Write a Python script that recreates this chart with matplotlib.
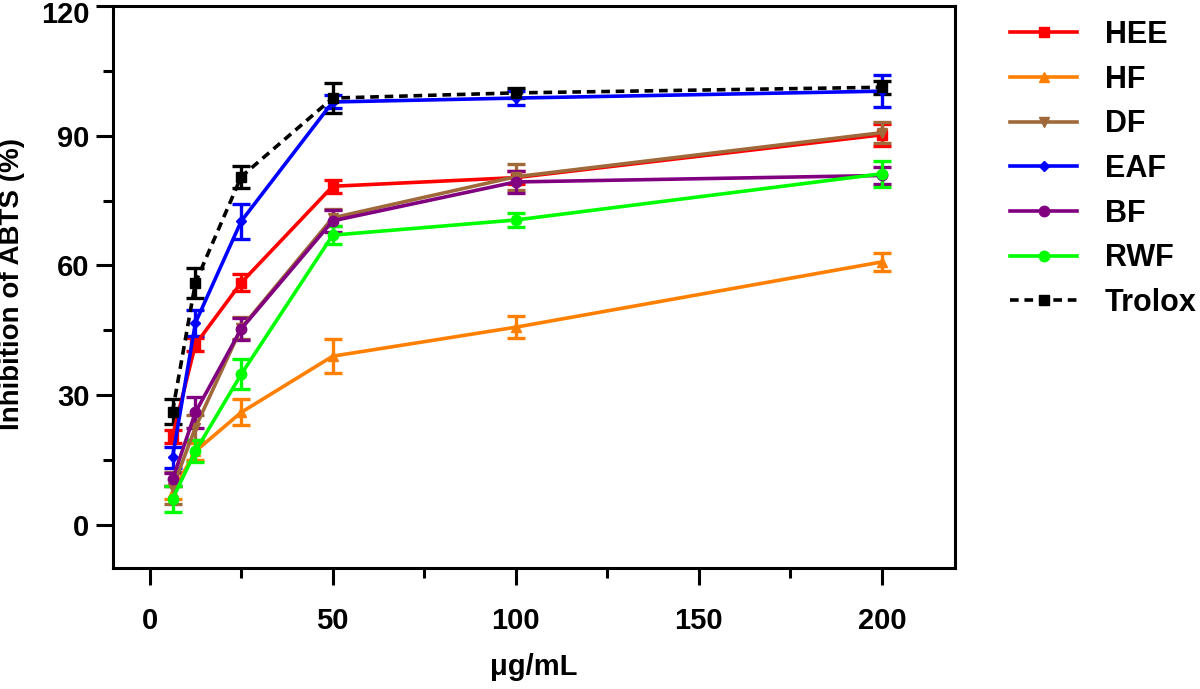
import matplotlib
matplotlib.use("Agg")
import matplotlib.pyplot as plt
import matplotlib.transforms as mtransforms
from matplotlib.ticker import MultipleLocator

plt.rcParams['font.family'] = ['Liberation Sans', 'DejaVu Sans']
plt.rcParams['font.weight'] = 'bold'

conc = [6.25, 12.5, 25, 50, 100, 200]

hee = [20.5, 41.7, 56.0, 78.3, 80.3, 90.2]
hee_err = [1.5, 1.5, 2.0, 1.5, 1.5, 2.5]
hf = [7.5, 17.0, 26.0, 39.0, 45.7, 60.8]
hf_err = [1.5, 2.0, 3.0, 4.0, 2.5, 2.0]
df = [8.5, 22.5, 45.5, 71.0, 80.5, 90.7]
df_err = [3.7, 3.0, 2.5, 2.0, 3.0, 2.5]
eaf = [15.6, 46.7, 70.2, 97.8, 98.7, 100.3]
eaf_err = [2.5, 3.0, 4.0, 1.5, 1.7, 3.7]
bf = [10.5, 26.0, 45.3, 70.3, 79.3, 80.8]
bf_err = [1.5, 3.5, 2.5, 2.5, 2.5, 2.0]
rwf = [6.0, 17.0, 34.8, 67.0, 70.5, 81.2]
rwf_err = [3.0, 2.5, 3.5, 2.0, 1.7, 3.0]
trolox = [26.2, 56.0, 80.5, 98.7, 99.9, 101.2]
trolox_err = [3.0, 3.5, 2.5, 3.5, 1.2, 1.5]

names = ['HEE', 'HF', 'DF', 'EAF', 'BF', 'RWF', 'Trolox']
series = [hee, hf, df, eaf, bf, rwf, trolox]
errors = [hee_err, hf_err, df_err, eaf_err, bf_err, rwf_err, trolox_err]
colors = ['#ff0000', '#ff8000', '#a0693a', '#0000ff', '#800080', '#00ff00', '#000000']
markers = ['s', '^', 'v', 'D', 'o', 'o', 's']
msizes = [7.5, 7.5, 7.5, 5.5, 7.5, 7.5, 7.5]

fig = plt.figure(figsize=(12, 6.89), dpi=100)
ax = fig.add_axes([0.0942, 0.1756, 0.7017, 0.8157])

handles = []
for name, y, e, c, m, ms in zip(names, series, errors, colors, markers, msizes):
    ls = (0, (2.4, 1.6)) if name == 'Trolox' else '-'
    cont = ax.errorbar(conc, y, yerr=e, color=c, marker=m, markersize=ms,
                       linewidth=2.6, linestyle=ls, capsize=6.5, capthick=2.4,
                       elinewidth=2.4, label=name)
    handles.append(cont[0])

ax.set_xlim(-10, 220)
ax.set_ylim(-10, 120)
ax.xaxis.set_major_locator(MultipleLocator(50))
ax.xaxis.set_minor_locator(MultipleLocator(25))
ax.yaxis.set_major_locator(MultipleLocator(30))
ax.yaxis.set_minor_locator(MultipleLocator(15))

for s in ax.spines.values():
    s.set_linewidth(2.2)
ax.tick_params(which='major', length=12, width=2.2, labelsize=21)
ax.tick_params(which='minor', length=7, width=2.2)
ax.tick_params(axis='x', which='major', pad=16)
ax.tick_params(axis='y', which='major', pad=5)

ax.set_xlabel('μg/mL', fontsize=21, fontweight='bold')
ax.xaxis.set_label_coords(0.5, -0.152)
ax.xaxis.label.set_va('top')
ax.set_ylabel('Inhibition of ABTS (%)', fontsize=20, fontweight='bold')
ax.yaxis.set_label_coords(-0.105, 0.505)

fig.legend(handles=handles, labels=names, loc='upper left',
           bbox_to_anchor=(1010 / 1200, 1 - 20 / 689), frameon=False,
           fontsize=22, handlelength=2.2, handletextpad=0.9,
           labelspacing=0.48, borderpad=0, borderaxespad=0)

# nudge the top "120" label down a little so it is not clipped by the figure edge
fig.canvas.draw()
top_lab = [t for t in ax.yaxis.get_major_ticks() if abs(t.get_loc() - 120) < 1e-6]
for t in top_lab:
    lab = t.label1
    lab.set_transform(lab.get_transform() +
                      mtransforms.ScaledTranslation(0, -4 / 72, fig.dpi_scale_trans))

fig.savefig('out.png', dpi=100)
